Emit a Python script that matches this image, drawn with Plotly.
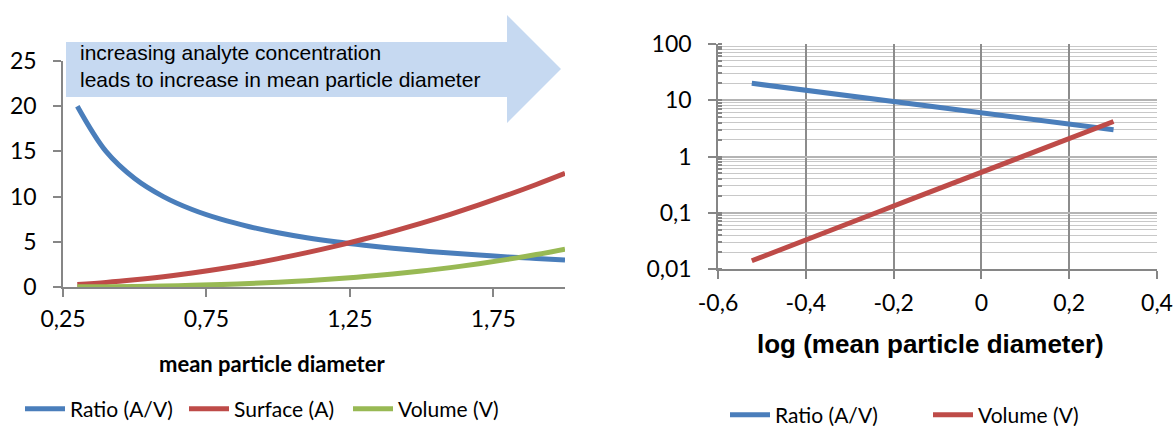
import plotly.graph_objects as go

# ---- data ----
diameter = [0.3, 0.4, 0.5, 0.6, 0.7, 0.8, 0.9, 1.0, 1.1, 1.2, 1.3, 1.4, 1.5, 1.6, 1.7, 1.8, 1.9, 2.0]
ratio = [20.0, 15.0, 12.0, 10.0, 8.57, 7.5, 6.67, 6.0, 5.45, 5.0, 4.62, 4.29, 4.0, 3.75, 3.53, 3.33, 3.16, 3.0]
surface = [0.28, 0.50, 0.79, 1.13, 1.54, 2.01, 2.54, 3.14, 3.80, 4.52, 5.31, 6.16, 7.07, 8.04, 9.08, 10.18, 11.34, 12.57]
volume = [0.014, 0.034, 0.065, 0.113, 0.180, 0.268, 0.382, 0.524, 0.697, 0.905, 1.150, 1.437, 1.767, 2.145, 2.572, 3.054, 3.591, 4.189]
log_diameter = [-0.523, -0.398, -0.301, -0.222, -0.155, -0.097, -0.046, 0.0, 0.041, 0.079, 0.114, 0.146, 0.176, 0.204, 0.230, 0.255, 0.279, 0.301]

left_xticks = [0.25, 0.75, 1.25, 1.75]
left_xticktext = ["0,25", "0,75", "1,25", "1,75"]
left_yticks = [0, 5, 10, 15, 20, 25]
right_xticks = [-0.6, -0.4, -0.2, 0, 0.2, 0.4]
right_xticktext = ["-0,6", "-0,4", "-0,2", "0", "0,2", "0,4"]
right_yticks = [0.01, 0.1, 1, 10, 100]
right_yticktext = ["0,01", "0,1", "1", "10", "100"]

BLUE, RED, GREEN = "#4A7EBB", "#BE4B48", "#98B954"
AXIS = "#868686"
W, H = 1176, 426
TICKFONT = dict(family="Lato", size=23, color="#000000")


def px(x):
    return x / W


def py(y):
    return 1 - y / H


fig = go.Figure()
lw = 5
fig.add_trace(go.Scatter(x=diameter, y=ratio, name="Ratio (A/V)", mode="lines",
                         line=dict(color=BLUE, width=lw, shape="spline"), xaxis="x", yaxis="y", legend="legend"))
fig.add_trace(go.Scatter(x=diameter, y=surface, name="Surface (A)", mode="lines",
                         line=dict(color=RED, width=lw, shape="spline"), xaxis="x", yaxis="y", legend="legend"))
fig.add_trace(go.Scatter(x=diameter, y=volume, name="Volume (V)", mode="lines",
                         line=dict(color=GREEN, width=lw, shape="spline"), xaxis="x", yaxis="y", legend="legend"))
fig.add_trace(go.Scatter(x=log_diameter, y=ratio, name="Ratio (A/V)", mode="lines",
                         line=dict(color=BLUE, width=lw), xaxis="x2", yaxis="y2", legend="legend2"))
fig.add_trace(go.Scatter(x=log_diameter, y=volume, name="Volume (V)", mode="lines",
                         line=dict(color=RED, width=lw), xaxis="x2", yaxis="y2", legend="legend2"))

common = dict(showline=True, linecolor=AXIS, linewidth=1.5, ticks="outside", ticklen=8, tickcolor=AXIS,
              tickwidth=1.5, zeroline=False, tickfont=TICKFONT, automargin=False)

fig.update_layout(
    width=W, height=H, margin=dict(l=0, r=0, t=0, b=0, autoexpand=False),
    paper_bgcolor="white", plot_bgcolor="white",
    separators=",.",
    xaxis=dict(domain=[px(63), px(565)], range=[0.25, 2.0], tickvals=left_xticks, ticktext=left_xticktext,
               showgrid=False, ticklabelstandoff=3, anchor="y", **common),
    yaxis=dict(domain=[py(287), py(61)], range=[0, 25], tickvals=left_yticks,
               showgrid=False, ticklabelstandoff=12, anchor="x", **common),
    xaxis2=dict(domain=[px(718), px(1157)], range=[-0.6, 0.4], tickvals=right_xticks, ticktext=right_xticktext,
                showgrid=True, gridcolor="#8C8C8C", gridwidth=1.5, ticklabelstandoff=5, anchor="y2", **common),
    yaxis2=dict(domain=[py(269), py(44)], type="log", range=[-2, 2], tickvals=right_yticks,
                ticktext=right_yticktext, showgrid=True, gridcolor="#B4B4B4", gridwidth=1.5,
                ticklabelstandoff=12, anchor="x2",
                minor=dict(dtick="D1", showgrid=True, gridcolor="#C8C8C8", gridwidth=1.2,
                           ticks="inside", ticklen=4, tickcolor=AXIS), **common),
    legend=dict(orientation="h", x=px(20), y=py(409), xanchor="left", yanchor="middle",
                font=dict(family="Lato", size=21, color="#000"), bgcolor="rgba(0,0,0,0)",
                entrywidth=109, entrywidthmode="pixels", itemwidth=40, tracegroupgap=0),
    legend2=dict(orientation="h", x=px(725), y=py(415), xanchor="left", yanchor="middle",
                 font=dict(family="Lato", size=21, color="#000"), bgcolor="rgba(0,0,0,0)",
                 entrywidth=148, entrywidthmode="pixels", itemwidth=40, tracegroupgap=0),
    showlegend=True,
)

# block arrow (decoration)
ax = [66, 507, 507, 561, 507, 507, 66]
ay = [42, 42, 15, 69, 123, 97, 97]
path = "M " + " L ".join(f"{px(a)},{py(b)}" for a, b in zip(ax, ay)) + " Z"
fig.add_shape(type="path", path=path, xref="paper", yref="paper", fillcolor="#C6D9F1",
              line=dict(width=0), layer="below")

fig.add_annotation(x=px(78), y=py(66), xref="paper", yref="paper", xanchor="left", yanchor="middle",
                   align="left", showarrow=False,
                   text="increasing analyte concentration<br>leads to increase in mean particle diameter",
                   font=dict(family="Liberation Sans", size=21, color="#000"))

fig.add_annotation(x=px(272), y=py(363), xref="paper", yref="paper", xanchor="center", yanchor="middle",
                   showarrow=False, text="<b>mean particle diameter</b>",
                   font=dict(family="Lato", size=22, color="#000"))
fig.add_annotation(x=px(930), y=py(344), xref="paper", yref="paper", xanchor="center", yanchor="middle",
                   showarrow=False, text="<b>log (mean particle diameter)</b>",
                   font=dict(family="Liberation Sans", size=26, color="#000"))

fig.write_html("out.html")
